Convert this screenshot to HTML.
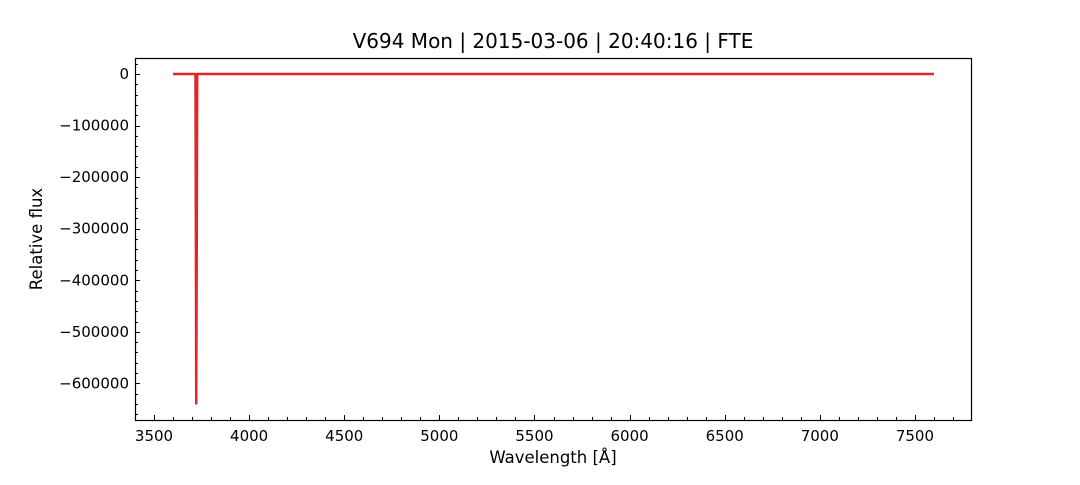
<!DOCTYPE html>
<html><head><meta charset="utf-8"><style>
body{margin:0;background:#fff;}
svg text{font-family:"DejaVu Sans","Liberation Sans",sans-serif;fill:#000;}
</style></head><body>
<svg id="chart" width="1080" height="480" viewBox="0 0 1080 480" xmlns="http://www.w3.org/2000/svg">
<rect width="1080" height="480" fill="#fff"/>
<text x="553" y="48" font-size="20" text-anchor="middle">V694 Mon | 2015-03-06 | 20:40:16 | FTE</text>
<g id="ticks"></g>
<path id="series" fill="none" stroke="#e0252b" stroke-width="2.5" stroke-linejoin="round"/>
<rect x="135.5" y="58.5" width="836" height="362" fill="none" stroke="#000" stroke-width="1.2"/>
<text x="553" y="463" font-size="16.5" text-anchor="middle">Wavelength [Å]</text>
<text x="0" y="0" font-size="16.5" text-anchor="middle" transform="translate(42,239) rotate(-90)">Relative flux</text>
</svg>
<script>
const wavelengths = [3600, 3718, 3720, 3722, 3724, 3727, 3730, 7600];
const fluxValues = [0, 0, -300000, -639000, -400000, 0, 0, 0];
const xTicks = [3500, 4000, 4500, 5000, 5500, 6000, 6500, 7000, 7500];
const yTicks = [0, -100000, -200000, -300000, -400000, -500000, -600000];
const X0 = 135, X1 = 972, Y0 = 58, Y1 = 420;
const xMin = 3400, xMax = 7800, yMin = -671000, yMax = 31000;
const sx = v => X0 + (v - xMin) / (xMax - xMin) * (X1 - X0);
const sy = v => Y1 - (v - yMin) / (yMax - yMin) * (Y1 - Y0);
const NS = "http://www.w3.org/2000/svg";
const g = document.getElementById('ticks');
function line(x1,y1,x2,y2,name){
  const l = document.createElementNS(NS,'line');
  l.setAttribute('x1',x1);l.setAttribute('y1',y1);l.setAttribute('x2',x2);l.setAttribute('y2',y2);
  l.setAttribute('stroke','#000');l.setAttribute('stroke-width','1');
  
  
  g.appendChild(l);
}
function text(x,y,s,anchor,name){
  const t = document.createElementNS(NS,'text');
  t.setAttribute('x',x);t.setAttribute('y',y);t.setAttribute('font-size','15');t.setAttribute('text-anchor',anchor);
  t.textContent = s;
  
  
  g.appendChild(t);
}
for (let v = 3500; v < 7800; v += 100) {
  const x = Math.round(sx(v)) + 0.5;
  line(x, Y1, x, Y1 - (v % 500 === 0 ? 5 : 3), 'x-tick');
}
xTicks.forEach(v => text(sx(v), Y1 + 21, String(v), 'middle', 'x-tick-label'));
for (let v = -660000; v <= 20000; v += 20000) {
  const y = Math.round(sy(v)) + 0.5;
  line(X0, y, X0 + (v % 100000 === 0 ? 5 : 3), y, 'y-tick');
}
yTicks.forEach(v => text(X0 - 6, sy(v) + 5, v === 0 ? '0' : '\u2212' + Math.abs(v), 'end', 'y-tick-label'));
let d = '';
wavelengths.forEach((w, i) => { d += (i ? 'L' : 'M') + sx(w).toFixed(2) + ' ' + sy(fluxValues[i]).toFixed(2) + ' '; });
document.getElementById('series').setAttribute('d', d);
</script>
</body></html>
